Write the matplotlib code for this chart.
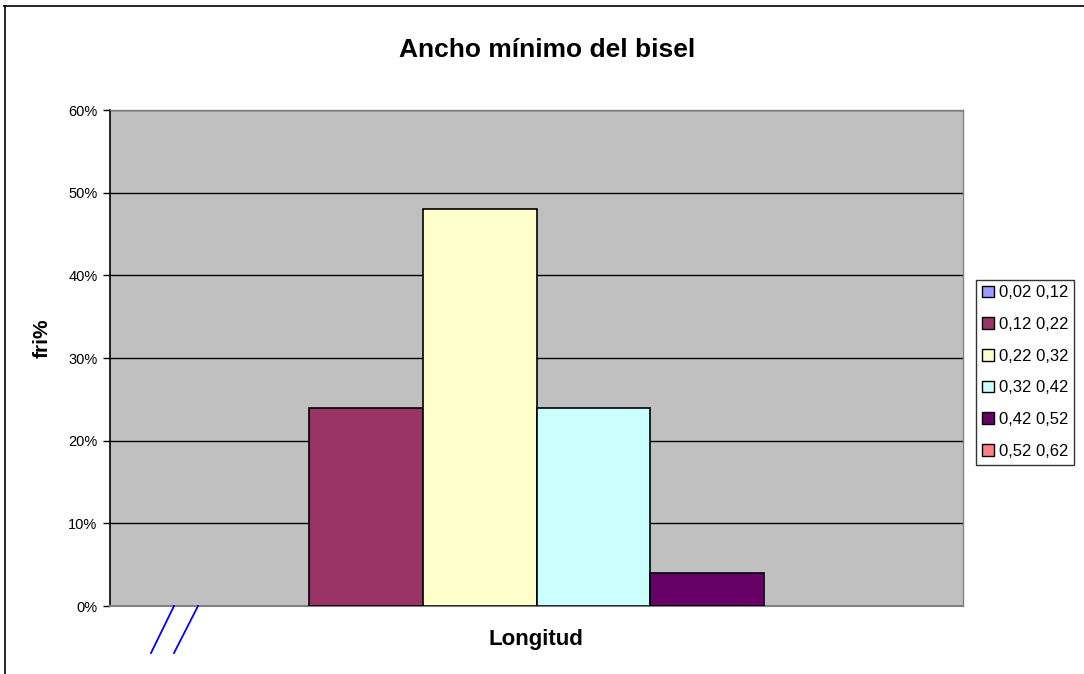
import matplotlib
matplotlib.use("Agg")
import matplotlib.pyplot as plt
from matplotlib.lines import Line2D
import numpy as np

plt.rcParams['font.family'] = ['Liberation Sans', 'DejaVu Sans']

title = "Ancho mínimo del bisel"
series_labels = ["0,02 0,12", "0,12 0,22", "0,22 0,32", "0,32 0,42", "0,42 0,52", "0,52 0,62"]
values = [0.0, 0.24, 0.48, 0.24, 0.04, 0.0]
colors = ["#9999FF", "#993366", "#FFFFCC", "#CCFFFF", "#660066", "#FF8080"]
yticks = [0, 0.1, 0.2, 0.3, 0.4, 0.5, 0.6]
ytick_labels = ["0%", "10%", "20%", "30%", "40%", "50%", "60%"]

W, H = 1084, 674
fig = plt.figure(figsize=(W / 100, H / 100), dpi=100)
fig.patch.set_facecolor("white")

# plot area in pixels
left, right, top, bottom = 110, 963, 110, 606
ax = fig.add_axes([left / W, 1 - bottom / H, (right - left) / W, (bottom - top) / H])
ax.set_facecolor("#C0C0C0")

n = len(values)
bw = 1 / 7.5
offsets = (np.arange(n) - (n - 1) / 2) * bw
for i in range(n):
    ax.bar(offsets[i], values[i], width=bw, facecolor=colors[i],
           edgecolor="black" if values[i] > 0 else "none",
           linewidth=1.2, label=series_labels[i], zorder=3)

ax.set_xlim(-0.5, 0.5)
ax.set_ylim(0, 0.6)
ax.set_yticks(yticks)
ax.set_yticklabels(ytick_labels, fontsize=10.5)
ax.set_xticks([])
ax.yaxis.grid(True, color="black", linewidth=1.0, zorder=1)
ax.set_axisbelow(True)
ax.tick_params(axis="y", direction="out", length=5, width=1, color="black", pad=4)
for s in ["top", "right"]:
    ax.spines[s].set_color("#808080")
    ax.spines[s].set_linewidth(1)
ax.spines["bottom"].set_color("#808080")
ax.spines["bottom"].set_linewidth(1.5)
ax.spines["left"].set_color("black")
ax.spines["left"].set_linewidth(1.2)

fig.text(547 / W, 1 - 50 / H, title, ha="center", va="center", fontsize=19, fontweight="bold")
fig.text(536 / W, 1 - 640 / H, "Longitud", ha="center", va="center", fontsize=16, fontweight="bold")
fig.text(42 / W, 1 - 338 / H, "fri%", ha="center", va="center", fontsize=15, fontweight="bold", rotation=90)

handles = [plt.Rectangle((0, 0), 1, 1, facecolor=c, edgecolor="black", linewidth=1) for c in colors]
leg = fig.legend(handles, series_labels, loc="center", bbox_to_anchor=(1025 / W, 1 - 372 / H), fontsize=12,
                 frameon=True, fancybox=False, edgecolor="black", handlelength=0.7,
                 handleheight=0.7, handletextpad=0.3, labelspacing=1.0, borderpad=0.35,
                 borderaxespad=0)
leg.get_frame().set_linewidth(1)

# outer frame lines and decorative slashes
fig.add_artist(Line2D([4 / W, 1], [1 - 6 / H, 1 - 6 / H], color="black", linewidth=1.2))
fig.add_artist(Line2D([5 / W, 5 / W], [1 - 6 / H, 0], color="black", linewidth=1.2))
fig.add_artist(Line2D([174 / W, 151 / W], [1 - 606 / H, 1 - 653 / H], color="#0000FF", linewidth=1.3))
fig.add_artist(Line2D([198 / W, 174 / W], [1 - 606 / H, 1 - 653 / H], color="#0000FF", linewidth=1.3))

fig.savefig("out.png", dpi=100, facecolor="white")
